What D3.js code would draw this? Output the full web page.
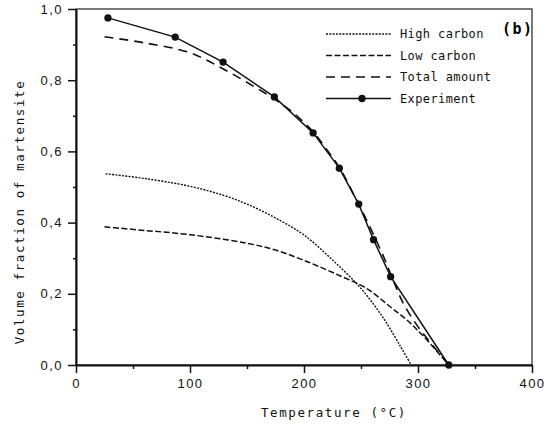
<!DOCTYPE html>
<html lang="en">
	<head>
		<meta charset="utf-8">
		<title>Volume fraction of martensite</title>
		<script type="text/javascript" src="https://d3js.org/d3.v7.min.js"></script>
		<style type="text/css">
			body { margin: 0; background: #fff; }
			.tick text { font-family: "Liberation Sans", Arial, sans-serif; font-size: 13px; letter-spacing: 1.5px; fill: #111; }
			.title { font-family: "DejaVu Sans Mono", monospace; font-size: 12.5px; letter-spacing: 1.6px; fill: #111; }
			.legend text { font-family: "DejaVu Sans Mono", monospace; font-size: 12px; letter-spacing: 0.4px; fill: #111; }
		</style>
	</head>
	<body>
		<script type="text/javascript">

			//Experiment points
			var expTemp = [28, 87, 129, 174, 208, 231, 248, 261, 276, 327];
			var expFrac = [0.975, 0.921, 0.851, 0.753, 0.652, 0.553, 0.452, 0.352, 0.248, 0.0];

			//High carbon (calculated)
			var highTemp = [26, 60, 100, 130, 150, 175, 200, 225, 250, 270, 285, 294];
			var highFrac = [0.537, 0.524, 0.502, 0.476, 0.452, 0.413, 0.365, 0.295, 0.215, 0.13, 0.05, 0.0];

			//Low carbon (calculated)
			var lowTemp = [25, 60, 100, 150, 175, 203, 232, 255, 275, 290, 305, 327];
			var lowFrac = [0.388, 0.378, 0.366, 0.342, 0.323, 0.29, 0.25, 0.215, 0.165, 0.127, 0.08, 0.0];

			//Total amount (calculated)
			var totalTemp = [25, 60, 100, 130, 160, 175, 190, 208, 220, 232, 245, 256, 269, 278, 287, 299, 313, 327];
			var totalFrac = [0.922, 0.905, 0.877, 0.83, 0.775, 0.745, 0.71, 0.655, 0.605, 0.55, 0.47, 0.4, 0.31, 0.24, 0.174, 0.112, 0.055, 0.0];

			var xTicks = [0, 100, 200, 300, 400];
			var yTicks = [0, 0.2, 0.4, 0.6, 0.8, 1.0];
			var legendNames = ["High carbon", "Low carbon", "Total amount", "Experiment"];

			//Width and height
			var w = 548;
			var h = 424;
			var margin = { left: 76, right: 16, top: 9, bottom: 59 };

			var xScale = d3.scaleLinear()
				.domain([0, 400])
				.range([margin.left, w - margin.right]);

			var yScale = d3.scaleLinear()
				.domain([0, 1])
				.range([h - margin.bottom, margin.top]);

			var svg = d3.select("body")
						.append("svg")
						.attr("width", w)
						.attr("height", h);

			//Frame
			svg.append("rect")
				.attr("x", xScale(0))
				.attr("y", yScale(1))
				.attr("width", xScale(400) - xScale(0))
				.attr("height", yScale(0) - yScale(1))
				.attr("fill", "none")
				.attr("stroke", "#222")
				.attr("stroke-width", 1.2);

			//Minor ticks
			svg.append("g")
				.attr("transform", "translate(0," + yScale(0) + ")")
				.call(d3.axisBottom(xScale).tickValues(d3.range(50, 400, 100)).tickSize(4).tickFormat(""))
				.call(function(g) { g.select(".domain").remove(); });

			svg.append("g")
				.attr("transform", "translate(" + xScale(0) + ",0)")
				.call(d3.axisLeft(yScale).tickValues(d3.range(0.1, 1, 0.2)).tickSize(3).tickFormat(""))
				.call(function(g) { g.select(".domain").remove(); });

			//Major axes
			var xAxis = svg.append("g")
				.attr("transform", "translate(0," + yScale(0) + ")")
				.call(d3.axisBottom(xScale).tickValues(xTicks).tickSize(8).tickSizeOuter(0).tickPadding(6));

			var yAxis = svg.append("g")
				.attr("transform", "translate(" + xScale(0) + ",0)")
				.call(d3.axisLeft(yScale).tickValues(yTicks).tickSize(8).tickSizeOuter(0).tickPadding(5)
					.tickFormat(function(d) { return d3.format(".1f")(d).replace(".", ","); }));

			svg.selectAll(".domain").attr("stroke-width", 2).attr("stroke", "#111");
			svg.selectAll(".tick line").attr("stroke-width", 1.5).attr("stroke", "#111");

			//Axis titles
			svg.append("text")
				.attr("class", "title")
				.attr("x", (xScale(0) + xScale(400)) / 2 + 30)
				.attr("y", 417)
				.attr("text-anchor", "middle")
				.text("Temperature (°C)");

			svg.append("text")
				.attr("class", "title")
				.attr("transform", "translate(24," + 212 + ") rotate(-90)")
				.attr("text-anchor", "middle")
				.text("Volume fraction of martensite");

			//Lines
			var line = d3.line()
				.x(function(d) { return xScale(d[0]); })
				.y(function(d) { return yScale(d[1]); })
				.curve(d3.curveCatmullRom);

			var lineStraight = d3.line()
				.x(function(d) { return xScale(d[0]); })
				.y(function(d) { return yScale(d[1]); });

			var styles = [
				{ dash: "2,1.3", width: 1.4 },
				{ dash: "6,2.5", width: 1.5 },
				{ dash: "9,6", width: 1.6 },
				{ dash: null, width: 1.5 }
			];

			var series = [
				d3.zip(highTemp, highFrac),
				d3.zip(lowTemp, lowFrac),
				d3.zip(totalTemp, totalFrac)
			];

			series.forEach(function(s, i) {
				svg.append("path")
					.datum(s)
					.attr("d", line)
					.attr("fill", "none")
					.attr("stroke", "#111")
					.attr("stroke-width", styles[i].width)
					.attr("stroke-dasharray", styles[i].dash);
			});

			var expData = d3.zip(expTemp, expFrac);

			svg.append("path")
				.datum(expData)
				.attr("d", lineStraight)
				.attr("fill", "none")
				.attr("stroke", "#111")
				.attr("stroke-width", 1.5);

			var marker = d3.symbol().type(d3.symbolCircle).size(42);

			svg.selectAll(".pt")
				.data(expData)
				.enter()
				.append("path")
				.attr("class", "pt")
				.attr("d", marker)
				.attr("transform", function(d) { return "translate(" + xScale(d[0]) + "," + yScale(d[1]) + ")"; })
				.attr("fill", "#111");

			//Legend
			var legend = svg.append("g").attr("class", "legend");

			legendNames.forEach(function(name, i) {
				var ly = 34 + i * 21.5;
				legend.append("line")
					.attr("x1", 326).attr("x2", 391)
					.attr("y1", ly).attr("y2", ly)
					.attr("stroke", "#111")
					.attr("stroke-width", styles[i].width)
					.attr("stroke-dasharray", styles[i].dash);
				legend.append("text")
					.attr("x", 400)
					.attr("y", ly)
					.attr("dy", "0.35em")
					.text(name);
				if (i == 3) {
					legend.append("path")
						.attr("d", marker)
						.attr("transform", "translate(362," + ly + ")")
						.attr("fill", "#111");
				}
			});

			//Panel label
			svg.append("text")
				.attr("x", 502)
				.attr("y", 34)
				.attr("font-family", "DejaVu Sans Mono, monospace")
				.attr("font-weight", "bold")
				.attr("font-size", 15)
				.attr("letter-spacing", 1.5)
				.text("(b)");

		</script>
	</body>
</html>
